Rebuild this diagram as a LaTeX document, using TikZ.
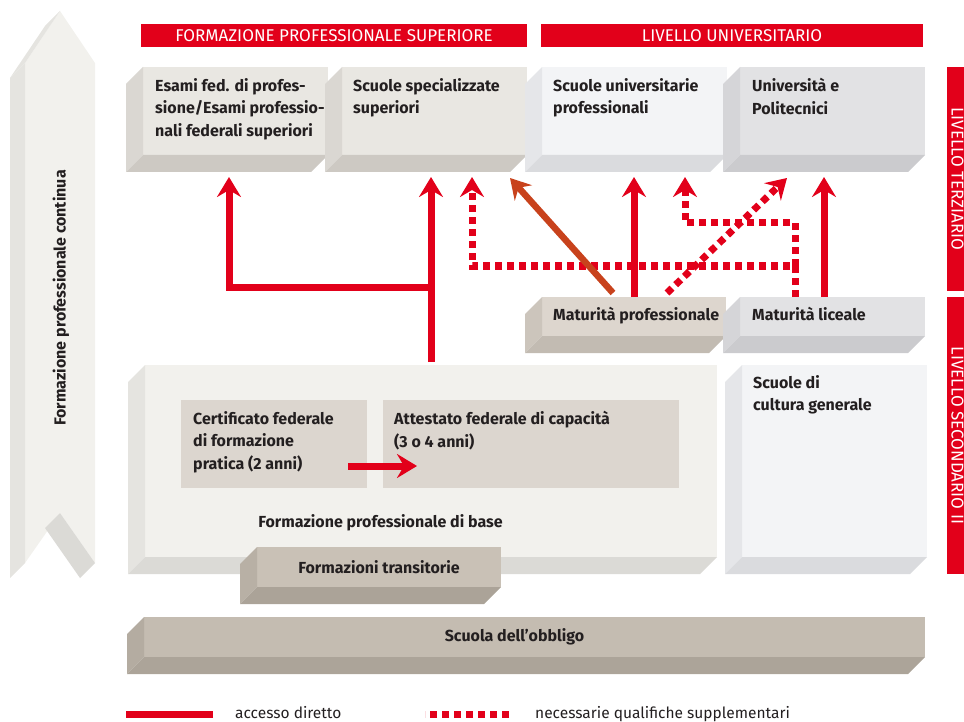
\documentclass[tikz,border=0pt]{standalone}
\usepackage{fontspec}
\setmainfont{Fira Sans}
\usetikzlibrary{arrows.meta}

\definecolor{swred}{RGB}{226,0,26}
\definecolor{rust}{RGB}{200,66,28}
\definecolor{ink}{RGB}{35,31,32}
% blocchi: faccia frontale / laterale / inferiore
\definecolor{warmF}{RGB}{233,231,226}
\definecolor{warmS}{RGB}{218,215,210}
\definecolor{warmB}{RGB}{205,201,195}
\definecolor{coolF}{RGB}{243,244,246}
\definecolor{coolS}{RGB}{229,230,233}
\definecolor{coolB}{RGB}{218,219,222}
\definecolor{greyF}{RGB}{226,226,228}
\definecolor{greyS}{RGB}{213,213,216}
\definecolor{greyB}{RGB}{203,203,206}
\definecolor{sandF}{RGB}{221,214,206}
\definecolor{sandS}{RGB}{204,197,188}
\definecolor{sandB}{RGB}{194,187,178}
\definecolor{baseF}{RGB}{242,241,237}
\definecolor{baseS}{RGB}{229,228,224}
\definecolor{baseB}{RGB}{219,218,214}
\definecolor{cellF}{RGB}{220,214,207}
\definecolor{taupeF}{RGB}{201,193,182}
\definecolor{taupeS}{RGB}{184,176,165}
\definecolor{taupeB}{RGB}{171,163,152}
\definecolor{oblF}{RGB}{196,188,177}
\definecolor{oblS}{RGB}{180,172,161}
\definecolor{oblB}{RGB}{172,164,153}

% lato sinistro e fondo di un blocco
\newcommand{\extr}[3]{%
  \fill[#2] (#1.north west) -- ++(-17,17) -- ([shift={(-17,17)}]#1.south west) -- (#1.south west) -- cycle;
  \fill[#3] (#1.south west) -- ++(-17,17) -- ([shift={(-17,17)}]#1.south east) -- (#1.south east) -- cycle;
}

\begin{document}
\begin{tikzpicture}[x=1pt, y=-1pt,
    face/.style={anchor=north west, inner sep=0pt, outer sep=0pt},
    boxtxt/.style={anchor=north west, align=left, inner sep=0pt, text=ink, font=\bfseries\fontsize{16}{22.5}\selectfont},
    midtxt/.style={inner sep=0pt, text=ink, font=\bfseries\fontsize{16}{18}\selectfont},
    hdr/.style={fill=swred, text=white, inner sep=0pt, font=\fontsize{17}{18}\selectfont},
    legtxt/.style={anchor=base west, inner sep=0pt, text=ink, font=\fontsize{15.5}{18}\selectfont},
    acc/.style={draw=swred, line width=7pt, -{Stealth[length=20pt, width=24pt, inset=7pt]}},
    qual/.style={acc, dash pattern=on 7pt off 5pt},
    togap/.style={shorten >=22pt},
    ora/.style={draw=rust, line width=6.5pt, -{Stealth[length=20pt, width=23pt, inset=7pt]}}
  ]
  \useasboundingbox (0,0) rectangle (964,722);

  % formazione continua
  \fill[baseF] (60,11) -- (95,63) -- (95,563) -- (60,513) -- (25,563) -- (25,63) -- cycle;
  \fill[baseS] (60,11) -- (25,63) -- (10,78) -- (45,26) -- cycle;
  \fill[baseS] (25,63) -- (25,563) -- (10,578) -- (10,78) -- cycle;
  \fill[baseB] (60,513) -- (95,563) -- (80,578) -- (45,528) -- cycle;
  \node[midtxt, rotate=90] (fpc) at (61,298) {Formazione professionale continua};

  % titoli
  \node[hdr, face, minimum width=386, minimum height=23] (hfps) at (141,24) {FORMAZIONE PROFESSIONALE SUPERIORE};
  \node[hdr, face, minimum width=382, minimum height=23] (hliv) at (541,24) {LIVELLO UNIVERSITARIO};
  \node[hdr, rotate=-90, minimum width=224, minimum height=21] (hter) at (957.5,179) {LIVELLO TERZIARIO};
  \node[hdr, rotate=-90, minimum width=277, minimum height=21] (hsec) at (957.5,435.5) {LIVELLO SECONDARIO II};

  % livello terziario
  \node[face, fill=warmF, minimum width=185, minimum height=88] (esami) at (143,67) {};
  \extr{esami}{warmS}{warmB}
  \node[boxtxt] (esamit) at ([shift={(12,11)}]esami.north west) {Esami fed. di profes-\\sione/Esami professio-\\nali federali superiori};
  \node[face, fill=warmF, minimum width=185, minimum height=88] (sss) at (342,67) {};
  \extr{sss}{warmS}{warmB}
  \node[boxtxt] (ssst) at ([shift={(11,11)}]sss.north west) {Scuole specializzate\\superiori};
  \node[face, fill=coolF, minimum width=185, minimum height=88] (sup) at (542,67) {};
  \extr{sup}{coolS}{coolB}
  \node[boxtxt] (supt) at ([shift={(11,11)}]sup.north west) {Scuole universitarie\\professionali};
  \node[face, fill=greyF, minimum width=185, minimum height=88] (uni) at (740,67) {};
  \extr{uni}{greyS}{greyB}
  \node[boxtxt] (unit) at ([shift={(12,11)}]uni.north west) {Università e\\Politecnici};

  % maturità
  \node[face, fill=sandF, minimum width=184, minimum height=39] (mp) at (542,297) {};
  \extr{mp}{sandS}{sandB}
  \node[boxtxt] (mpt) at ([shift={(11,10)}]mp.north west) {Maturità professionale};
  \node[face, fill=greyF, minimum width=185, minimum height=39] (ml) at (740,297) {};
  \extr{ml}{greyS}{greyB}
  \node[boxtxt] (mlt) at ([shift={(12,10)}]ml.north west) {Maturità liceale};

  % livello secondario II
  \node[face, fill=baseF, minimum width=572, minimum height=192] (fpb) at (145,365) {};
  \extr{fpb}{baseS}{baseB}
  \node[face, fill=cellF, minimum width=186, minimum height=88] (cfp) at (181,400) {};
  \node[boxtxt] (cfpt) at ([shift={(12,11)}]cfp.north west) {Certificato federale\\di formazione\\pratica (2 anni)};
  \node[face, fill=cellF, minimum width=296, minimum height=88] (afc) at (383,400) {};
  \node[boxtxt] (afct) at ([shift={(11,11)}]afc.north west) {Attestato federale di capacità\\(3 o 4 anni)};
  \node[midtxt] (fpbt) at (380.5,523) {Formazione professionale di base};
  \node[face, fill=coolF, minimum width=185, minimum height=192] (scg) at (742,365) {};
  \extr{scg}{coolS}{coolB}
  \node[boxtxt] (scgt) at ([shift={(11,10)}]scg.north west) {Scuole di\\cultura generale};
  \node[face, fill=taupeF, minimum width=244, minimum height=40] (ft) at (257,547) {};
  \extr{ft}{taupeS}{taupeB}
  \node[midtxt] (ftt) at (ft.center) {Formazioni transitorie};

  % scuola dell'obbligo
  \node[face, fill=oblF, minimum width=781, minimum height=40] (so) at (144,617) {};
  \extr{so}{oblS}{oblB}
  \node[midtxt] (sot) at ([shift={(-20,0)}]so.center) {Scuola dell’obbligo};

  % accessi
  \coordinate (tj) at (431,287);
  \coordinate (qa) at (795,266);
  \coordinate (qb) at (795,223);
  \draw[qual, togap] (ml.north -| qa) -- (qa) -| ([xshift=-55pt]sss.south east);
  \draw[qual, togap] (qa) -- (qb) -| ([xshift=50.5pt]sup.south);
  \draw[qual] ([shift={(125,-4)}]mp.north west) -- ([shift={(47,23)}]uni.south west);
  \draw[acc, togap, shorten <=3pt] (fpb.north -| tj) -- (tj |- sss.south);
  \draw[acc, togap] (tj) -| ([xshift=-6.5pt]esami.south);
  \draw[acc, togap] (mp.north) -- (mp.north |- sup.south);
  \draw[acc, togap] ([xshift=-8.5pt]ml.north) -- ([xshift=-8.5pt]uni.south);
  \draw[ora] ([shift={(71,-4)}]mp.north west) -- ([shift={(-17,23)}]sss.south east);
  \draw[acc] ([shift={(-19,-22)}]cfp.south east) -- ([shift={(34,-22)}]afc.south west);

  % legenda
  \node[legtxt] (legacc) at (235,718) {accesso diretto};
  \node[legtxt] (legqual) at (535,718) {necessarie qualifiche supplementari};
  \draw[draw=swred, line width=7pt] ([shift={(-22,-4)}]legacc.base west) -- ++(-87,0);
  \draw[draw=swred, line width=7pt, dash pattern=on 7pt off 5pt] ([shift={(-26,-4)}]legqual.base west) -- ++(-84,0);
\end{tikzpicture}
\end{document}
